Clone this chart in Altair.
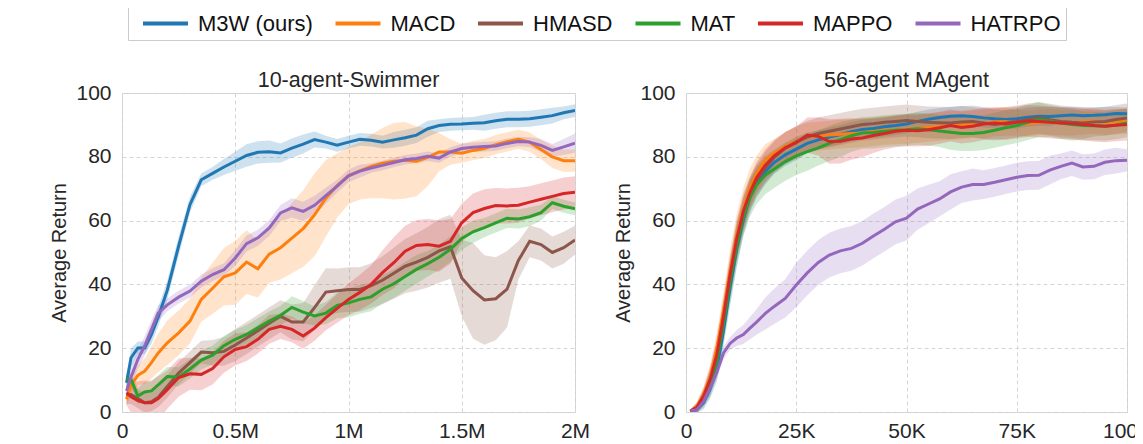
import altair as alt
import pandas as pd

METHODS = ["M3W (ours)", "MACD", "HMASD", "MAT", "MAPPO", "HATRPO"]
COLORS = ["#1f77b4", "#ff7f0e", "#8c564b", "#2ca02c", "#d62728", "#9467bd"]

# ---------------- 10-agent-Swimmer (x in millions of steps) ----------------
SWIM_X = [0.02, 0.04, 0.07, 0.10, 0.13, 0.16, 0.20, 0.25, 0.30, 0.35, 0.40, 0.45, 0.50,
          0.55, 0.60, 0.65, 0.70, 0.75, 0.80, 0.85, 0.90, 0.95, 1.00, 1.05, 1.10, 1.15,
          1.20, 1.25, 1.30, 1.35, 1.40, 1.45, 1.50, 1.55, 1.60, 1.65, 1.70, 1.75, 1.80,
          1.85, 1.90, 1.95, 2.00]

swim_m3w = [9.2, 17.0, 20.1, 20.1, 24.3, 29.8, 38.2, 52.0, 65.0, 72.8, 74.8, 76.8, 78.6,
            80.4, 81.4, 81.6, 81.2, 82.7, 84.0, 85.4, 84.6, 83.6, 84.6, 85.5, 85.2, 84.6,
            85.3, 86.0, 86.8, 88.8, 89.8, 90.2, 90.3, 90.5, 90.7, 91.3, 91.8, 91.8, 91.9,
            92.4, 92.9, 93.8, 94.5]
swim_m3w_hw = [2.5, 3, 2, 2, 3, 3, 3, 3, 2.5, 2, 2, 2.5, 3, 3.5, 3.5, 3.5, 3, 3, 3, 2.5,
               2, 2, 2, 2, 2, 2, 2.5, 2.5, 2.5, 2.5, 2, 2, 2, 2, 2.5, 2.5, 2.5, 2.5, 2.5,
               2.5, 2.5, 2, 2]

swim_macd = [4.0, 8.5, 11.5, 12.8, 15.5, 18.5, 21.7, 24.8, 28.5, 35.3, 38.8, 42.4, 43.6,
             47.0, 44.9, 49.5, 51.5, 54.5, 57.5, 61.8, 67.0, 71.0, 74.1, 75.6, 77.0, 78.0,
             78.6, 78.9, 78.6, 79.8, 81.5, 81.5, 81.1, 82.0, 82.6, 83.8, 84.7, 85.5, 84.6,
             82.3, 80.0, 78.8, 78.8]
swim_macd_hw = [2, 3, 3, 4, 5, 6, 7, 7, 7, 7, 8, 9, 10, 10, 9, 9, 10, 11, 12, 13, 12, 10,
                9, 9, 10, 11, 12, 12, 11, 9, 6, 4, 3, 3, 3, 3, 3, 3, 3, 3, 3.5, 3.5, 3.5]

swim_hmasd = [5.5, 5.5, 4.2, 2.9, 3.2, 4.6, 8.0, 12.2, 15.5, 18.8, 18.6, 19.0, 21.0,
              23.2, 25.5, 27.8, 30.0, 28.2, 28.2, 32.7, 37.6, 38.0, 38.4, 38.4, 39.6, 41.3,
              43.5, 45.7, 47.0, 48.5, 50.5, 51.8, 42.0, 38.0, 35.1, 35.5, 38.5, 47.5, 53.5,
              52.5, 50.0, 51.5, 53.9]
swim_hmasd_hw = [3, 3, 3, 3, 3, 3, 3.5, 3.5, 3.5, 3.5, 4, 4.5, 5, 5, 5, 5, 5, 5.5, 6, 7,
                 7.5, 7, 7, 7, 7, 7.5, 8, 8.5, 9, 9.5, 10, 10, 12, 15, 14, 13, 12, 6, 5, 5,
                 5, 5, 4.5]

swim_mat = [10.4, 10.2, 5.0, 6.3, 6.6, 8.5, 11.1, 11.0, 13.5, 16.3, 17.8, 20.8, 22.8,
            24.3, 26.4, 28.5, 30.3, 32.8, 31.3, 30.1, 31.0, 33.4, 34.2, 35.3, 36.1, 38.5,
            40.2, 42.5, 44.7, 46.5, 48.5, 51.0, 54.4, 56.5, 57.8, 59.3, 60.7, 60.5, 61.2,
            62.5, 65.6, 64.5, 63.7]
swim_mat_hw = [2, 2, 2.5, 3, 3, 3, 3, 3, 3, 3, 3, 3, 3, 3, 3, 3, 3, 3.5, 3.5, 3, 3.5, 4,
               4.5, 4.5, 4.5, 4.5, 4.5, 4.5, 4.5, 4, 4, 4, 3.5, 3.5, 3, 3, 3, 3, 3, 2.5, 2,
               2, 2]

swim_mappo = [6.1, 4.8, 3.6, 2.9, 2.9, 4.2, 7.0, 10.8, 12.0, 11.8, 13.6, 17.3, 19.6,
              20.5, 22.8, 25.9, 26.9, 25.9, 23.8, 26.3, 29.6, 32.5, 35.3, 37.5, 40.0, 43.7,
              46.8, 50.4, 52.2, 52.5, 52.0, 53.5, 59.3, 62.5, 63.8, 64.7, 64.6, 64.8, 65.8,
              66.7, 67.6, 68.5, 68.9]
swim_mappo_hw = [4, 5, 6, 7, 7, 7, 6, 6, 5, 5, 5, 5, 5, 4.5, 4.5, 4.5, 4, 4, 4, 4, 4, 4.5,
                 5, 5.5, 6, 7, 8, 8, 8, 8, 8, 7, 6, 6, 6, 5.5, 5.5, 5.5, 5, 5, 5, 5, 5]

swim_hatrpo = [6.6, 11.0, 16.5, 20.7, 25.8, 31.0, 33.6, 36.0, 37.9, 41.0, 43.1, 44.6, 48.3,
               52.8, 54.6, 57.7, 62.4, 64.0, 62.9, 64.8, 67.8, 70.8, 74.0, 75.5, 76.5, 77.3,
               78.2, 79.1, 79.5, 80.2, 79.6, 81.5, 82.6, 83.0, 83.2, 83.4, 84.2, 84.8, 84.6,
               83.6, 82.0, 83.1, 84.3]
swim_hatrpo_hw = [2, 3, 3, 3, 3, 2.5, 2, 2, 2, 2, 2, 2, 2.5, 2.5, 2.5, 2.5, 2.5, 3, 3, 3,
                  2.5, 2, 2, 2, 1.5, 1.5, 1.5, 1.5, 1.5, 1.5, 1.5, 1.5, 1.5, 1.5, 1.5, 1.5,
                  1.5, 1.5, 1.5, 2, 2, 2.5, 3]

# ---------------- 56-agent MAgent (x in thousands of steps) ----------------
MAG_X = [1, 2.5, 4, 5.5, 7, 8.5, 10, 11.5, 13, 14.5, 16, 18, 20, 22.5, 25, 27.5, 30, 32.5,
         35, 37.5, 40, 42.5, 45, 47.5, 50, 52.5, 55, 57.5, 60, 62.5, 65, 67.5, 70, 72.5,
         75, 77.5, 80, 82.5, 85, 87.5, 90, 92.5, 95, 97.5, 100]

mag_m3w = [0.1, 0.8, 2.9, 7.4, 13.5, 25.5, 39.0, 51.2, 60.3, 67.3, 71.8, 75.4, 78.2, 80.6,
           82.4, 84.2, 85.3, 86.2, 87.0, 87.9, 88.6, 88.9, 89.4, 89.8, 90.3, 91.1, 91.8,
           92.3, 92.7, 92.9, 92.6, 92.2, 91.9, 91.7, 91.9, 92.4, 92.7, 92.6, 92.9, 93.1,
           92.9, 93.0, 93.2, 93.6, 93.5]
mag_m3w_hw = [0.3, 1, 2, 3, 4, 5, 6, 6, 5, 5, 4.5, 4, 3.5, 3.5, 3.5, 3, 3, 3, 3, 3, 3, 3,
              3, 3, 3, 3, 3, 3, 3, 3, 3, 3, 3, 3, 3, 3, 3, 3, 2.5, 2.5, 2.5, 2.5, 2.5, 2, 2]

mag_macd = [0.3, 1.8, 5.6, 11.0, 20.0, 31.7, 44.0, 55.2, 63.8, 70.3, 74.8, 79.0, 81.1,
            83.3, 85.0, 86.2, 86.5, 86.8, 87.1, 87.3, 87.5, 87.9, 88.3, 88.4, 88.6, 88.9,
            89.2, 89.5, 89.8, 90.1, 90.4, 90.2, 90.9, 91.1, 90.6, 90.4, 90.8, 91.0, 90.7,
            90.6, 90.9, 91.2, 90.8, 91.0, 91.2]
mag_macd_hw = [0.5, 1.5, 2.5, 4, 5, 6, 7, 7, 6.5, 6, 5.5, 5, 4.5, 4.5, 4.5, 4.5, 4.5, 4.5,
               4.5, 4.5, 4.5, 4.5, 4.5, 4.5, 4.5, 4.5, 4.5, 4.5, 4.5, 4.5, 4.5, 4.5, 4.5,
               4.5, 4, 4, 4, 4, 4, 4, 4, 4, 4, 4, 4]

mag_hmasd = [0.2, 1.3, 4.5, 9.5, 17.0, 28.8, 42.0, 53.2, 61.8, 68.2, 72.5, 76.6, 79.8,
             82.7, 84.7, 86.2, 87.3, 88.0, 88.7, 89.4, 90.1, 90.4, 90.8, 91.1, 91.4, 91.1,
             90.8, 90.7, 90.6, 90.9, 91.1, 90.6, 90.1, 90.6, 91.1, 91.7, 92.2, 91.6, 91.1,
             90.8, 90.6, 90.9, 91.1, 91.7, 92.2]
mag_hmasd_hw = [0.5, 1.5, 2.5, 4, 5, 6, 6, 6, 5.5, 5, 5, 5, 5, 5, 5, 5, 5, 5, 5, 5, 5, 5,
                5, 5, 5, 5, 5, 5, 5, 5, 5, 5, 5, 5, 5, 5, 5, 5, 5, 5, 5, 4.5, 4.5, 4.5, 4.5]

mag_mat = [0.2, 1.2, 4.0, 8.8, 16.0, 27.7, 41.0, 52.3, 61.2, 67.2, 71.2, 74.3, 76.2, 78.5,
           80.3, 81.6, 82.8, 84.2, 85.4, 86.6, 87.5, 87.6, 88.0, 88.3, 88.5, 88.8, 88.5,
           88.1, 87.7, 87.3, 87.3, 87.6, 88.3, 89.1, 89.8, 90.8, 91.6, 91.2, 90.6, 90.1,
           89.8, 89.7, 89.6, 90.0, 90.6]
mag_mat_hw = [0.5, 1.5, 2.5, 4, 5, 6, 6.5, 6.5, 6, 6, 6, 6, 6, 6, 6, 6, 5.5, 5.5, 5.5, 5,
              5, 5, 5, 5, 5, 5, 5, 5, 5.5, 5.5, 5.5, 5.5, 5.5, 5.5, 5.5, 5.5, 5.5, 5, 5, 5,
              4.5, 4.5, 4.5, 4.5, 4.5]

mag_mappo = [0.2, 1.5, 5.0, 10.3, 18.0, 29.8, 43.0, 54.3, 62.9, 68.8, 73.4, 77.4, 80.3,
             82.8, 84.4, 86.8, 86.4, 84.8, 84.9, 85.6, 85.9, 86.7, 87.3, 88.0, 88.3, 88.2,
             88.5, 89.1, 89.8, 89.2, 89.6, 90.3, 90.6, 90.3, 90.8, 91.2, 91.1, 90.8, 90.6,
             90.4, 90.1, 89.8, 89.6, 89.9, 90.1]
mag_mappo_hw = [0.5, 1.5, 2.5, 4, 5, 6, 6, 6, 5.5, 5, 5, 5, 5, 5, 5, 5.5, 6, 7, 7, 6.5, 6,
                5.5, 5, 5, 5, 5, 5, 5, 5, 5, 5, 5, 5, 5, 5, 5, 5, 5, 5, 5, 5, 5, 5, 5, 5]

mag_hatrpo = [0.3, 0.7, 3.3, 7.6, 12.5, 18.5, 21.5, 23.2, 24.3, 26.3, 28.2, 30.9, 33.1,
              35.6, 39.8, 43.6, 46.9, 49.2, 50.5, 51.3, 52.9, 55.2, 57.3, 59.6, 60.8, 63.6,
              65.2, 66.8, 69.0, 70.5, 71.3, 71.3, 72.0, 72.8, 73.6, 74.1, 74.2, 75.8, 77.0,
              78.0, 76.8, 77.0, 78.3, 78.8, 78.9]
mag_hatrpo_hw = [0.3, 0.5, 1, 1.5, 2, 2, 2, 2.5, 3, 3.5, 4, 5, 5.5, 6, 7, 7, 7, 7, 7, 7,
                 7, 7, 7, 7, 7, 6.5, 6, 5.5, 5.5, 5, 5, 4.5, 4.5, 4.5, 4.5, 4.5, 4.5, 4.5,
                 4, 4, 4, 4, 4, 4, 3.5]

Y_TICKS = [0, 20, 40, 60, 80, 100]
SWIM_TICKS = [0, 0.5, 1, 1.5, 2]
MAG_TICKS = [0, 25, 50, 75, 100]

FONT = "Liberation Sans"
TEXT = "#262626"


def long_frame(xs, series):
    rows = []
    for name, (mean, hw) in zip(METHODS, series):
        for x, m, h in zip(xs, mean, hw):
            rows.append({"x": x, "method": name, "mean": m, "lo": m - h, "hi": m + h})
    return pd.DataFrame(rows)


swim_df = long_frame(SWIM_X, [(swim_m3w, swim_m3w_hw), (swim_macd, swim_macd_hw),
                              (swim_hmasd, swim_hmasd_hw), (swim_mat, swim_mat_hw),
                              (swim_mappo, swim_mappo_hw), (swim_hatrpo, swim_hatrpo_hw)])
mag_df = long_frame(MAG_X, [(mag_m3w, mag_m3w_hw), (mag_macd, mag_macd_hw),
                            (mag_hmasd, mag_hmasd_hw), (mag_mat, mag_mat_hw),
                            (mag_mappo, mag_mappo_hw), (mag_hatrpo, mag_hatrpo_hw)])

legend = alt.Legend(
    title=None, orient="none", legendX=6, legendY=-86, direction="horizontal", columns=6,
    symbolType="stroke", symbolSize=2025, symbolStrokeWidth=4, symbolOpacity=1,
    symbolOffset=8, clipHeight=23,
    labelFontSize=22, labelFont=FONT, labelColor="#111111", labelOffset=8,
    columnPadding=12.5, padding=5, strokeColor="#cccccc", fillColor="white",
    cornerRadius=0, labelLimit=300,
)
color_scale = alt.Scale(domain=METHODS, range=COLORS)


def panel(df, title, domain, ticks, suffix, width):
    xscale = alt.Scale(domain=domain, nice=False, zero=False)
    yscale = alt.Scale(domain=[0, 100], nice=False)
    xaxis = alt.Axis(values=ticks, title=None, labelFlush=False,
                     labelExpr="datum.value == 0 ? '0' : datum.value + '%s'" % suffix)
    yaxis = alt.Axis(values=Y_TICKS, title="Average Return", labelFlush=False)
    band = alt.Chart(df).mark_area(clip=True, fillOpacity=0.22, strokeWidth=0).encode(
        x=alt.X("x:Q", scale=xscale, axis=xaxis),
        y=alt.Y("lo:Q", scale=yscale, axis=yaxis),
        y2="hi:Q",
        color=alt.Color("method:N", scale=color_scale, legend=legend),
    )
    line = alt.Chart(df).mark_line(clip=True, strokeWidth=3).encode(
        x=alt.X("x:Q", scale=xscale, axis=xaxis),
        y=alt.Y("mean:Q", scale=yscale, axis=yaxis),
        color=alt.Color("method:N", scale=color_scale, legend=legend),
    )
    return alt.layer(band, line).properties(
        width=width, height=319,
        title=alt.TitleParams(title, fontSize=21.5, font=FONT, fontWeight="normal",
                              color=TEXT, offset=6, baseline="alphabetic", dy=32),
    )


left = panel(swim_df, "10-agent-Swimmer", [0, 2], SWIM_TICKS, "M", 453)
right = panel(mag_df, "56-agent MAgent", [0, 100], MAG_TICKS, "K", 441)

chart = alt.hconcat(left, right, spacing=111, bounds="flush").properties(
    padding={"left": 41, "top": -2, "right": -18, "bottom": 0},
).configure_view(
    stroke="#cfcfcf", strokeWidth=1,
).configure_axis(
    grid=True, gridColor="#d6d6d6", gridDash=[4, 3], gridWidth=1,
    domain=False, ticks=False,
    labelFont=FONT, labelFontSize=21, labelColor=TEXT, labelPadding=8,
    titleFont=FONT, titleFontSize=20, titleFontWeight="normal", titleColor=TEXT,
    titlePadding=6,
).configure_axisY(labelPadding=11)

chart.save("out.html", embed_options={"renderer": "svg", "actions": False})
